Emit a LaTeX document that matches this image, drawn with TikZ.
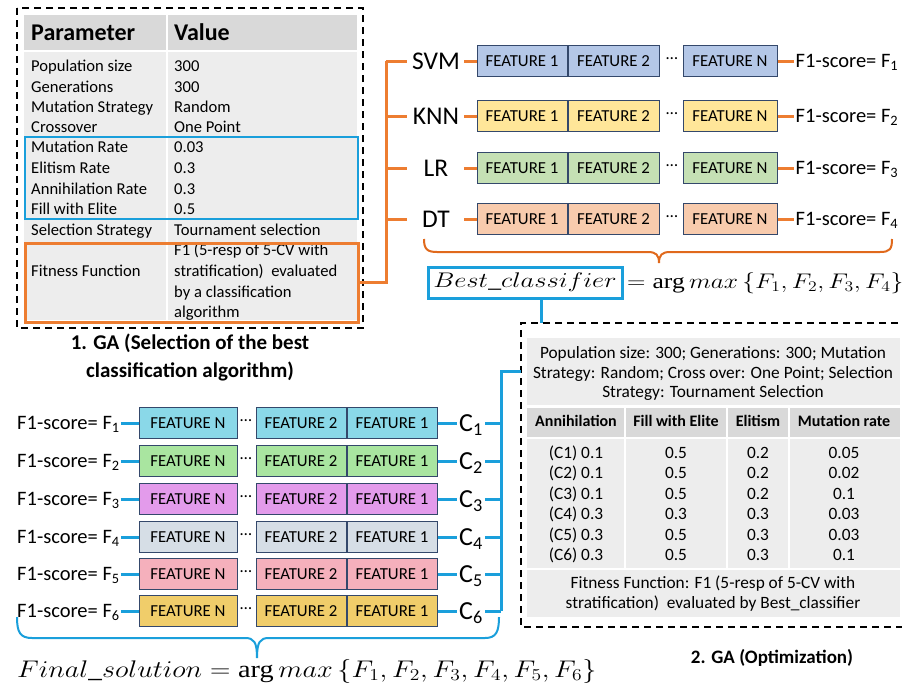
\documentclass[tikz,border=0pt]{standalone}
\usepackage{fontspec}
\setmainfont{Carlito}
\newfontfamily\serifA{Liberation Serif}
\usetikzlibrary{calc}
\definecolor{orng}{HTML}{ED7D31}
\definecolor{obr}{HTML}{E0691C}
\definecolor{blu}{HTML}{1A9FDB}
\definecolor{gryA}{HTML}{D9D9D9}
\definecolor{gryB}{HTML}{EDEDED}
\definecolor{bordr}{HTML}{34486B}
\definecolor{svmc}{HTML}{B4C7E7}
\definecolor{knnc}{HTML}{FFE699}
\definecolor{lrc}{HTML}{C5E0B4}
\definecolor{dtc}{HTML}{F8CBAD}
\definecolor{ca}{HTML}{8AD8E8}
\definecolor{cb}{HTML}{A9E5A0}
\definecolor{cc}{HTML}{E39BEB}
\definecolor{cd}{HTML}{D6DEE6}
\definecolor{ce}{HTML}{F5B0BC}
\definecolor{cf}{HTML}{F0CD6A}
\newcommand\fsT{\fontsize{16.6}{20.4}\selectfont}
\newcommand\fsU{\fontsize{17.3}{20.4}\selectfont}
\newcommand\fsF{\fontsize{16.8}{19}\selectfont}
\newcommand\fsH{\fontsize{16}{19}\selectfont}
\newcommand\fsS{\fontsize{20.5}{24}\selectfont}
\newcommand\fsM{\fontsize{20.74}{26}\selectfont}
\newcommand\argw{\hbox{\serifA arg}}
\begin{document}
\begin{tikzpicture}[x=1pt,y=-1pt,
  dashbox/.style={draw=black, line width=2pt, dash pattern=on 7pt off 5pt},
  oline/.style={draw=orng, line width=3pt},
  bline/.style={draw=blu, line width=3pt},
  feat/.style={draw=bordr, line width=1pt, minimum height=31pt, inner sep=0pt, font=\fsF},
  tx/.style={inner sep=0pt, anchor=west, text height=10.7pt, text depth=0pt, font=\fsT},
  tc/.style={inner sep=0pt, text height=11.1pt, text depth=0pt, font=\fsU},
  th/.style={inner sep=0pt, text height=10.3pt, text depth=0pt, font=\fsH\bfseries},
  sc/.style={inner sep=1.5pt, anchor=west, text height=13.2pt, text depth=0pt, font=\fsS},
  cl/.style={inner sep=2pt, text height=16.7pt, text depth=0pt, font=\fontsize{26}{30}\selectfont},
  lab/.style={inner sep=0pt, minimum width=52pt, text height=16.7pt, text depth=0pt, font=\fontsize{25.5}{30}\selectfont},
  dts/.style={inner sep=0pt, font=\fsF},
]
\useasboundingbox (0,0) rectangle (902,686);
\clip (0,0) rectangle (902,686);

% ---------------- Table 1 ----------------
\fill[gryA] (24,15) rectangle (357,50);
\fill[gryB] (24,52) rectangle (357,320);
\draw[white, line width=1.5pt] (167,15) -- (167,320);
\draw[dashbox] (17,8) rectangle (363,328);
\node[tx, text height=15.5pt, font=\fontsize{24}{28}\selectfont\bfseries] (hp) at (31,33) {Parameter};
\node[tx, text height=15.5pt, font=\fontsize{24}{28}\selectfont\bfseries] (hv) at (174,33) {Value};
\foreach \y/\a/\b in {66/Population size/300, 87/Generations/300, 107/Mutation Strategy/Random, 127/Crossover/One Point, 147/Mutation Rate/0.03, 168/Elitism Rate/0.3, 189/Annihilation Rate/0.3, 209/Fill with Elite/0.5, 230/Selection Strategy/Tournament selection}{
  \node[tx] (pl\y) at (31,\y) {\a};
  \node[tx] (pr\y) at (174,\y) {\b};
}
\node[tx] (ff) at (31,271) {Fitness Function};
\node[tx] (fa) at (174,250) {F1 (5-resp of 5-CV with};
\node[tx] (fb) at (174,271) {stratification)\ \ evaluated};
\node[tx] (fc) at (174,292) {by a classification};
\node[tx] (fd) at (174,312) {algorithm};
\node[draw=blu, line width=2pt, minimum width=333pt, minimum height=82pt, anchor=north west, inner sep=0pt] (selbox) at (24,136) {};
\node[draw=orng, line width=2.5pt, minimum width=333pt, minimum height=79pt, anchor=north west, inner sep=0pt] (fitbox) at (24,242) {};
\node[font=\fontsize{21}{28}\selectfont\bfseries, align=center, inner sep=0pt] (t1) at (190,357) {1. GA (Selection of the best\\classification algorithm)};

% ---------------- Classifier rows ----------------
\coordinate (tt) at (386,61);
\draw[oline] (fitbox.east) -| (tt);
\foreach \i/\y/\l/\col in {1/61/SVM/svmc, 2/116/KNN/knnc, 3/168/LR/lrc, 4/219/DT/dtc}{
  \node[lab] (lb\i) at (436,\y) {\l};
  \node[feat, fill=\col, minimum width=90pt] (a\i) at (522,\y) {FEATURE 1};
  \node[feat, fill=\col, minimum width=91pt, anchor=west] (b\i) at (a\i.east) {FEATURE 2};
  \node[dts] (d\i) at (672,\y-2) {…};
  \node[feat, fill=\col, minimum width=94pt] (n\i) at (730,\y) {FEATURE N};
  \node[sc] (s\i) at (794,\y) {F1-score= F\textsubscript{\i}};
  \draw[oline] (lb\i.west -| tt) -- ([xshift=-3pt]lb\i.west);
  \draw[oline] ([xshift=2pt]lb\i.east) -- (a\i.west);
  \draw[oline] (n\i.east) -- (s\i.west);
}
\draw[draw=obr, line width=2pt] (424,239) .. controls (424,249) and (427,252) .. (437,252) -- (648,252) .. controls (656,252) and (659,255) .. (659,263) .. controls (659,255) and (662,252) .. (670,252) -- (880,252) .. controls (890,252) and (892,249) .. (892,239);

\node[draw=blu, line width=3pt, minimum width=194pt, minimum height=31pt, inner sep=0pt, font=\fsM] (best) at (525,282.5) {\scalebox{1.28}[1.02]{$Best\_classifier$}};
\node[anchor=west, inner sep=0pt, font=\fsM] (beq) at (627,283) {\scalebox{1.23}[1.02]{$=\argw\,max\,\{F_1,F_2,F_3,F_4\}$}};

% ---------------- Table 2 ----------------
\coordinate (optnw) at (521,323);
\draw[bline] ([xshift=16pt]best.south) -- ([xshift=16pt]best.south |- optnw);
\fill[gryB] (527,338) rectangle (900,405);
\fill[gryA] (527,408) rectangle (900,437);
\fill[gryB] (527,439) rectangle (900,568);
\fill[gryB] (527,570) rectangle (900,617);
\draw[white, line width=1.5pt] (625,408) -- (625,568) (727,408) -- (727,568) (789,408) -- (789,568);
\draw[dashbox] (910,323) -- (optnw) -- (521,627) -- (910,627);
\node[tc] (g1) at (713,353) {Population size: 300; Generations: 300; Mutation};
\node[tc] (g2) at (713,373) {Strategy: Random; Cross over: One Point; Selection};
\node[tc] (g3) at (713,392) {Strategy: Tournament Selection};
\node[th] (h1) at (576,421) {Annihilation};
\node[th] (h2) at (676,421) {Fill with Elite};
\node[th] (h3) at (758,421) {Elitism};
\node[th] (h4) at (844,421) {Mutation rate};
\foreach \y/\a/\b/\c/\d in {453/(C1) 0.1/0.5/0.2/0.05, 473/(C2) 0.1/0.5/0.2/0.02, 494/(C3) 0.1/0.5/0.2/0.1, 514/(C4) 0.3/0.3/0.3/0.03, 535/(C5) 0.3/0.5/0.3/0.03, 555/(C6) 0.3/0.5/0.3/0.1}{
  \node[tc] (ka\y) at (576,\y) {\a};
  \node[tc] (kb\y) at (676,\y) {\b};
  \node[tc] (kc\y) at (758,\y) {\c};
  \node[tc] (kd\y) at (844,\y) {\d};
}
\node[tc] (q1) at (713,583) {Fitness Function: F1 (5-resp of 5-CV with};
\node[tc] (q2) at (713,603) {stratification)\ \ evaluated by Best\_classifier};
\node[font=\fontsize{19}{24}\selectfont\bfseries, inner sep=0pt, text height=12.5pt, text depth=0pt] (t2) at (772,657) {2. GA (Optimization)};

% ---------------- Bottom rows ----------------
\coordinate (bt) at (501,371);
\foreach \i/\y/\col in {1/423/ca, 2/461/cb, 3/499/cc, 4/537/cd, 5/574/ce, 6/611/cf}{
  \node[sc, inner sep=0pt] (f\i) at (17,\y) {F1-score= F\textsubscript{\i}};
  \node[feat, fill=\col, minimum width=98pt] (m\i) at (188,\y) {FEATURE N};
  \node[dts] (e\i) at (246,\y-2) {…};
  \node[feat, fill=\col, minimum width=90pt] (u\i) at (301,\y) {FEATURE 2};
  \node[feat, fill=\col, minimum width=90pt, anchor=west] (v\i) at (u\i.east) {FEATURE 1};
  \node[cl] (c\i) at (471,\y) {C\textsubscript{\i}};
  \draw[bline] ([xshift=1pt]f\i.east) -- (m\i.west);
  \draw[bline] (v\i.east) -- (c\i.west);
  \draw[bline] (c\i.east) -- (c\i.east -| bt);
}
\draw[bline] (c6.east -| bt) -- (bt) -- (bt -| optnw);
\draw[draw=blu, line width=2pt] (17,617) .. controls (17,632) and (20,638) .. (32,638) -- (245,638) .. controls (254,638) and (257,642) .. (257,658) .. controls (257,642) and (260,638) .. (269,638) -- (485,638) .. controls (496,638) and (499,632) .. (499,617);
\node[anchor=west, inner sep=0pt, font=\fsM] (fin) at (17,671) {\scalebox{1.36}[1.16]{$Final\_solution = \argw\,max\,\{F_1,F_2,F_3,F_4,F_5,F_6\}$}};
\end{tikzpicture}
\end{document}
